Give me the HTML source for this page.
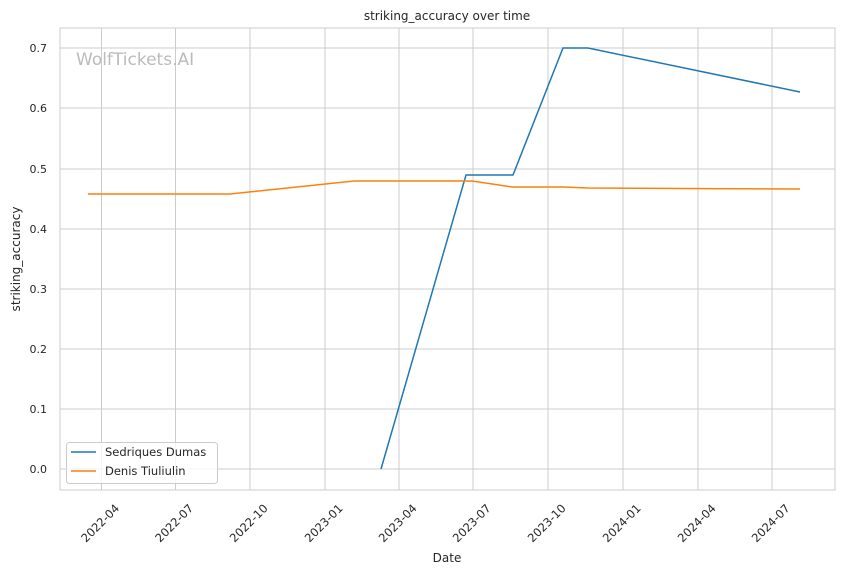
<!DOCTYPE html>
<html><head><style>body{margin:0;background:#fff}svg{display:block;font-family:"DejaVu Sans","Liberation Sans",sans-serif}</style></head><body>
<svg width="844" height="575" viewBox="0 0 844 575">
<rect x="60" y="28" width="775" height="462" fill="#fff" stroke="#ccc" stroke-width="1"/>
<g stroke="#ccc" stroke-width="1">
<line x1="60" x2="835" y1="469" y2="469"/><line x1="60" x2="835" y1="409" y2="409"/><line x1="60" x2="835" y1="349" y2="349"/><line x1="60" x2="835" y1="289" y2="289"/><line x1="60" x2="835" y1="229" y2="229"/><line x1="60" x2="835" y1="169" y2="169"/><line x1="60" x2="835" y1="108" y2="108"/><line x1="60" x2="835" y1="48" y2="48"/>
<line y1="28" y2="490" x1="101.5" x2="101.5"/><line y1="28" y2="490" x1="175.5" x2="175.5"/><line y1="28" y2="490" x1="250" x2="250"/><line y1="28" y2="490" x1="325" x2="325"/><line y1="28" y2="490" x1="399" x2="399"/><line y1="28" y2="490" x1="473" x2="473"/><line y1="28" y2="490" x1="548" x2="548"/><line y1="28" y2="490" x1="623" x2="623"/><line y1="28" y2="490" x1="698" x2="698"/><line y1="28" y2="490" x1="772" x2="772"/>
</g>
<g font-size="11" fill="#262626" text-anchor="end">
<text x="47" y="473">0.0</text><text x="47" y="413">0.1</text><text x="47" y="353">0.2</text><text x="47" y="293">0.3</text><text x="47" y="233">0.4</text><text x="47" y="173">0.5</text><text x="47" y="112">0.6</text><text x="47" y="52">0.7</text>
</g>
<g font-size="11.5" fill="#262626" text-anchor="end">
<text transform="translate(120,509) rotate(-45)">2022-04</text>
<text transform="translate(194,509) rotate(-45)">2022-07</text>
<text transform="translate(268.5,509) rotate(-45)">2022-10</text>
<text transform="translate(343.5,509) rotate(-45)">2023-01</text>
<text transform="translate(417.5,509) rotate(-45)">2023-04</text>
<text transform="translate(491.5,509) rotate(-45)">2023-07</text>
<text transform="translate(566.5,509) rotate(-45)">2023-10</text>
<text transform="translate(641.5,509) rotate(-45)">2024-01</text>
<text transform="translate(716.5,509) rotate(-45)">2024-04</text>
<text transform="translate(790.5,509) rotate(-45)">2024-07</text>
</g>
<text x="447" y="20" font-size="12" fill="#262626" text-anchor="middle">striking_accuracy over time</text>
<text x="447" y="562" font-size="12" fill="#262626" text-anchor="middle">Date</text>
<text transform="translate(20,259) rotate(-90)" font-size="12" fill="#262626" text-anchor="middle">striking_accuracy</text>
<text x="76" y="65" font-size="17" fill="#bbb">WolfTickets.AI</text>
<polyline fill="none" stroke="#1f77b4" stroke-width="1.5" points="381,469 466,175 513,175 563,48 588,48 800,92"/>
<polyline fill="none" stroke="#ff7f0e" stroke-width="1.5" points="88,194 230,194 354,181 472,181 512,187 563,187 588,188 800,189"/>
<rect x="66.5" y="442.5" width="151" height="41" rx="3" fill="#fff" fill-opacity="0.8" stroke="#ccc"/>
<line x1="71" x2="96" y1="452" y2="452" stroke="#1f77b4" stroke-width="1.5"/>
<line x1="71" x2="96" y1="471" y2="471" stroke="#ff7f0e" stroke-width="1.5"/>
<text x="105" y="456" font-size="11.5" fill="#262626">Sedriques Dumas</text>
<text x="105" y="475" font-size="11.5" fill="#262626">Denis Tiuliulin</text>
</svg>
</body></html>
